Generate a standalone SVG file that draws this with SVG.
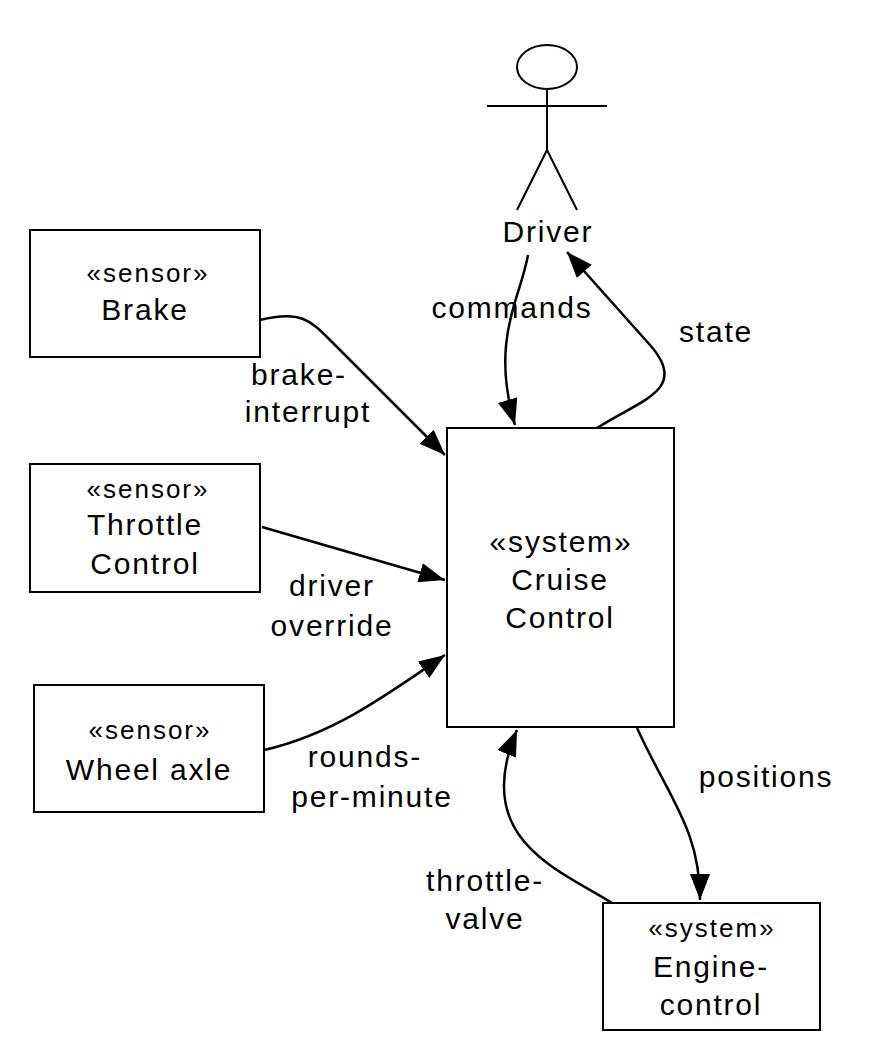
<svg xmlns="http://www.w3.org/2000/svg" width="874" height="1063" viewBox="0 0 874 1063">
<defs>
<style>
.box{fill:#fff;stroke:#000;stroke-width:2}
.t{font-family:"Helvetica","Liberation Sans",Arial,sans-serif;font-size:30px;letter-spacing:1.8px;text-anchor:middle;fill:#000}
.s{font-size:26px;letter-spacing:2px}
.c{fill:none;stroke:#000;stroke-width:2.5;marker-end:url(#a)}
</style>
<marker id="a" viewBox="0 0 26 20" refX="26" refY="10" markerWidth="26" markerHeight="20" markerUnits="userSpaceOnUse" orient="auto">
<path d="M0,0 L26,10 L0,20 Z" fill="#000"/>
</marker>
</defs>
<rect width="874" height="1063" fill="#fff"/>
<g id="driver" fill="none" stroke="#000" stroke-width="2">
<ellipse cx="547" cy="67" rx="30" ry="22"/>
<line x1="547" y1="89" x2="547" y2="150"/>
<line x1="487" y1="106" x2="607" y2="106"/>
<polyline points="517,210 547,150 577,210"/>
<text class="t" x="548" y="242" stroke="none" fill="#000">Driver</text>
</g>
<g id="brake"><rect class="box" x="30" y="230" width="230" height="127"/>
<text class="t s" x="148" y="282">«sensor»</text><text class="t" x="145" y="320">Brake</text></g>
<g id="throttle"><rect class="box" x="30" y="464" width="230" height="128"/>
<text class="t s" x="148" y="498">«sensor»</text><text class="t" x="145" y="535">Throttle</text><text class="t" x="145" y="574">Control</text></g>
<g id="wheel"><rect class="box" x="34" y="685" width="230" height="127"/>
<text class="t s" x="150" y="739">«sensor»</text><text class="t" x="149" y="780">Wheel axle</text></g>
<g id="cruise"><rect class="box" x="447" y="428" width="227" height="299"/>
<text class="t" x="561" y="552">«system»</text><text class="t" x="560" y="590">Cruise</text><text class="t" x="560" y="628">Control</text></g>
<g id="engine"><rect class="box" x="603" y="903" width="217" height="127"/>
<text class="t s" x="712" y="937">«system»</text><text class="t" x="711" y="977">Engine-</text><text class="t" x="711" y="1015">control</text></g>
<g id="connectors">
<path class="c" d="M260,320 C300,310 310,320 330,340 L445,455"/>
<path class="c" d="M262,527 L445,580"/>
<path class="c" d="M264,750 C330,735 380,700 445,655"/>
<path class="c" d="M528,255 C520,300 490,340 515,425"/>
<path class="c" d="M597,428 C640,400 690,390 650,345 L567,252"/>
<path class="c" d="M637,728 C670,800 700,830 700,900"/>
<path class="c" d="M612,903 C560,870 470,840 517,730"/>
</g>
<g id="labels">
<text class="t" x="512" y="318">commands</text>
<text class="t" x="716" y="342">state</text>
<text class="t" x="299" y="385">brake-</text><text class="t" x="308" y="422">interrupt</text>
<text class="t" x="332" y="596">driver</text><text class="t" x="332" y="636">override</text>
<text class="t" x="365" y="767">rounds-</text><text class="t" x="372" y="807">per-minute</text>
<text class="t" x="766" y="787">positions</text>
<text class="t" x="485" y="891">throttle-</text><text class="t" x="485" y="929">valve</text>
</g>
</svg>
